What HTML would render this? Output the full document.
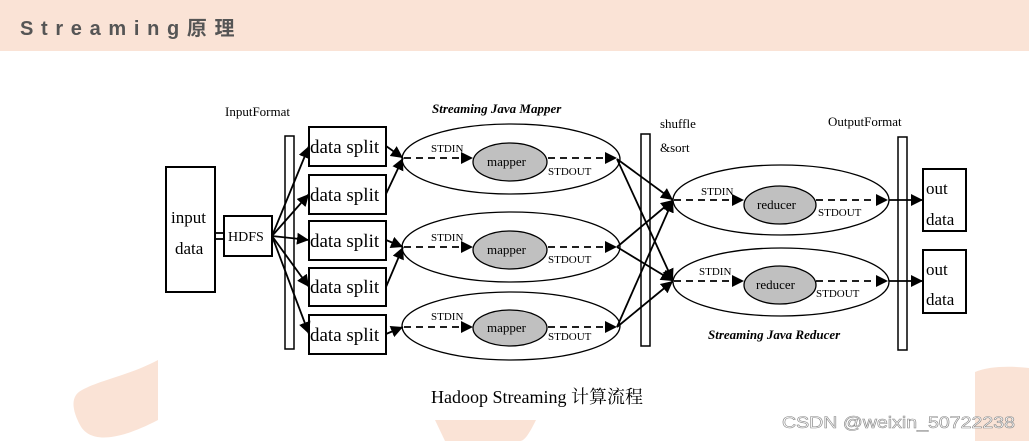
<!DOCTYPE html>
<html><head><meta charset="utf-8"><style>
html,body{margin:0;padding:0;background:#fff;}
body{width:1029px;height:441px;overflow:hidden;position:relative;}
svg{position:absolute;left:0;top:0;}
</style></head><body>
<svg width="1029" height="441" viewBox="0 0 1029 441" xmlns="http://www.w3.org/2000/svg">
<defs>
<marker id="a" viewBox="0 0 10 10" refX="10" refY="5" markerWidth="12" markerHeight="12" markerUnits="userSpaceOnUse" orient="auto"><path d="M0,0 L10,5 L0,10 z" fill="#000"/></marker>
</defs>
<rect x="0" y="0" width="1029" height="51" fill="#fae3d6"/>
<text x="20" y="35" font-family="Liberation Sans, Noto Sans CJK SC, sans-serif" font-weight="bold" font-size="20" fill="#555" letter-spacing="7.5" textLength="222">Streaming原理</text>
<path d="M158,360 C130,375 100,380 82,390 C70,396 72,410 80,425 C88,440 110,445 158,420 Z" fill="#fae3d6"/>
<path d="M435,420 L536,420 C530,432 525,441 520,441 L445,441 Z" fill="#fae3d6"/>
<path d="M975,372 C990,366 1010,366 1029,368 L1029,441 L975,441 Z" fill="#fae3d6"/>
<g font-family="Liberation Serif, serif" fill="#000">
<text x="225" y="116" font-size="13">InputFormat</text>
<text x="432" y="113" font-size="13" font-weight="bold" font-style="italic">Streaming Java Mapper</text>
<text x="660" y="128" font-size="13">shuffle</text>
<text x="660" y="152" font-size="13">&amp;sort</text>
<text x="828" y="126" font-size="13">OutputFormat</text>
<text x="708" y="339" font-size="13" font-weight="bold" font-style="italic">Streaming Java Reducer</text>
</g>
<g fill="#fff" stroke="#000" stroke-width="2">
<rect x="166" y="167" width="49" height="125"/>
<rect x="224" y="216" width="48" height="40"/>
<rect x="285" y="136" width="9" height="213" stroke-width="1.5"/>
<rect x="309" y="127" width="77" height="39"/>
<rect x="309" y="175" width="77" height="39"/>
<rect x="309" y="221" width="77" height="39"/>
<rect x="309" y="268" width="77" height="38"/>
<rect x="309" y="315" width="77" height="39"/>
<rect x="641" y="134" width="9" height="212" stroke-width="1.5"/>
<rect x="898" y="137" width="9" height="213" stroke-width="1.5"/>
<rect x="923" y="169" width="43" height="62"/>
<rect x="923" y="250" width="43" height="63"/>
</g>
<g fill="none" stroke="#000" stroke-width="1.3">
<ellipse cx="511" cy="159" rx="109" ry="35"/>
<ellipse cx="511" cy="247" rx="109" ry="35"/>
<ellipse cx="511" cy="326" rx="109" ry="34"/>
<ellipse cx="781" cy="200" rx="108" ry="35"/>
<ellipse cx="781" cy="282" rx="108" ry="34"/>
</g>
<g fill="#c0c0c0" stroke="#000" stroke-width="1.3">
<ellipse cx="510" cy="162" rx="37" ry="19"/>
<ellipse cx="510" cy="250" rx="37" ry="19"/>
<ellipse cx="510" cy="328" rx="37" ry="18"/>
<ellipse cx="780" cy="205" rx="36" ry="19"/>
<ellipse cx="780" cy="285" rx="36" ry="19"/>
</g>
<g font-family="Liberation Serif, serif" fill="#000">
<text x="171" y="223" font-size="17">input</text>
<text x="175" y="254" font-size="17">data</text>
<text x="228" y="241" font-size="14">HDFS</text>
<g font-size="19"><text x="310" y="153">data split</text><text x="310" y="201">data split</text><text x="310" y="247">data split</text><text x="310" y="293">data split</text><text x="310" y="341">data split</text></g>
<g font-size="13"><text x="487" y="166">mapper</text><text x="487" y="254">mapper</text><text x="487" y="332">mapper</text><text x="757" y="209">reducer</text><text x="756" y="289">reducer</text></g>
<g font-size="11"><text x="431" y="152">STDIN</text><text x="431" y="241">STDIN</text><text x="431" y="320">STDIN</text><text x="548" y="175">STDOUT</text><text x="548" y="263">STDOUT</text><text x="548" y="340">STDOUT</text>
<text x="701" y="195">STDIN</text><text x="699" y="275">STDIN</text><text x="818" y="216">STDOUT</text><text x="816" y="297">STDOUT</text></g>
<text x="926" y="194" font-size="17">out</text><text x="926" y="225" font-size="17">data</text>
<text x="926" y="275" font-size="17">out</text><text x="926" y="305" font-size="17">data</text>
<text x="431" y="403" font-size="18">Hadoop Streaming <tspan font-family="Noto Serif CJK SC, serif">计算流程</tspan></text>
</g>
<g stroke="#000" stroke-width="1.8" fill="none" marker-end="url(#a)">
<path d="M215,233 L224,233" marker-end="none"/><path d="M215,239 L224,239" marker-end="none"/>
<path d="M272,236 L309,146"/><path d="M272,236 L309,194"/><path d="M272,236 L309,240"/><path d="M272,236 L309,287"/><path d="M272,236 L309,334"/>
<path d="M386,146 L403,158"/><path d="M386,194 L403,158"/><path d="M386,240 L403,247"/><path d="M386,287 L403,247"/><path d="M386,334 L403,327"/>
<path d="M617,159 L673,200"/><path d="M617,159 L673,281"/><path d="M617,247 L673,200"/><path d="M617,247 L673,281"/><path d="M617,327 L673,200"/><path d="M617,327 L673,281"/>
<path d="M889,200 L923,200"/><path d="M889,281 L923,281"/>
</g>
<g stroke="#000" stroke-width="1.8" fill="none" stroke-dasharray="7,5" marker-end="url(#a)">
<path d="M404,158 L473,158"/><path d="M404,247 L473,247"/><path d="M404,327 L473,327"/>
<path d="M548,158 L617,158"/><path d="M548,247 L617,247"/><path d="M548,327 L617,327"/>
<path d="M674,200 L744,200"/><path d="M674,281 L744,281"/>
<path d="M816,200 L888,200"/><path d="M816,281 L888,281"/>
</g>
<text x="782" y="428" font-family="Liberation Sans, sans-serif" font-size="17" fill="#fff" stroke="#888" stroke-width="0.6" textLength="233" lengthAdjust="spacingAndGlyphs">CSDN @weixin_50722238</text>
</svg>
</body></html>
